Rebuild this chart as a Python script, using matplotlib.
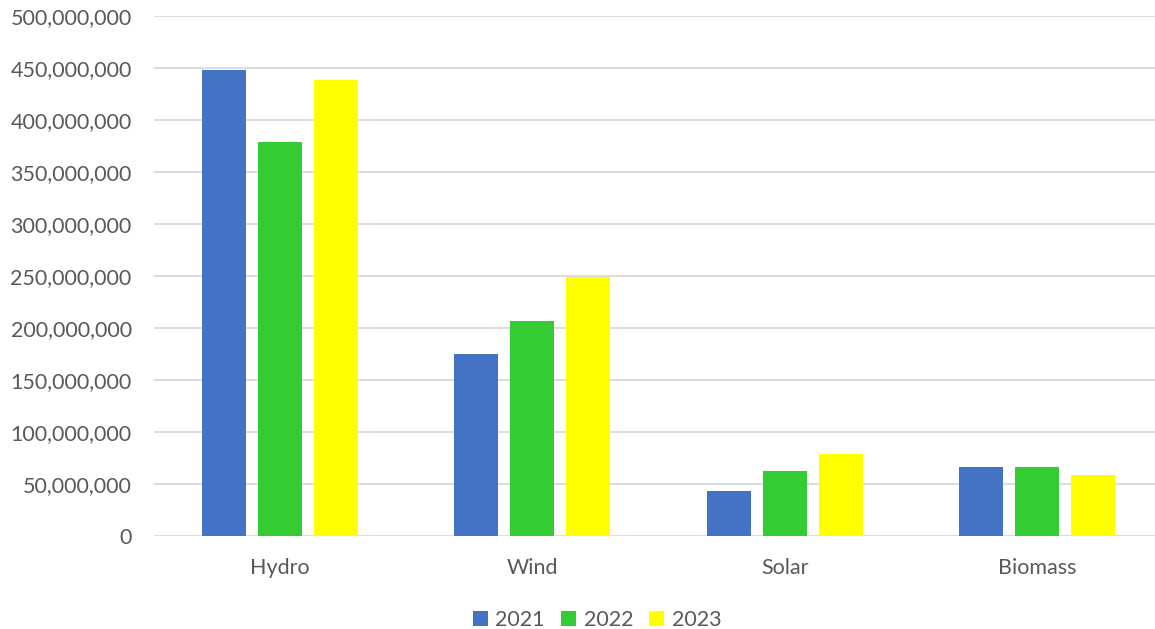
import matplotlib
matplotlib.use("Agg")
import matplotlib.pyplot as plt
import numpy as np
from matplotlib.ticker import FuncFormatter, MultipleLocator

categories = ["Hydro", "Wind", "Solar", "Biomass"]
years = ["2021", "2022", "2023"]
v2021 = [448_000_000, 175_000_000, 43_600_000, 66_700_000]
v2022 = [379_000_000, 207_000_000, 62_500_000, 66_000_000]
v2023 = [438_500_000, 248_700_000, 78_800_000, 58_600_000]
colors = ["#4472C4", "#33CC33", "#FFFF00"]

plt.rcParams['font.family'] = ['Lato', 'DejaVu Sans']
fig = plt.figure(figsize=(11.55, 6.29), dpi=100)
ax = fig.add_axes([0.1333, 0.148, 0.8736, 0.8268])

x = np.arange(len(categories))
step = 0.222
width = 0.174
for i, (vals, c, yr) in enumerate(zip([v2021, v2022, v2023], colors, years)):
    ax.bar(x + (i - 1) * step, vals, width, color=c, label=yr, zorder=3)

ax.set_xlim(-0.5, len(categories) - 0.5)
ax.set_ylim(0, 500_000_000)
ax.yaxis.set_major_locator(MultipleLocator(50_000_000))
ax.yaxis.set_major_formatter(FuncFormatter(lambda v, p: f"{int(v):,}"))
ax.grid(axis='y', color='#D9D9D9', linewidth=1.3, zorder=0)
for s in ax.spines.values():
    s.set_visible(False)
ax.tick_params(axis='both', length=0, labelsize=15.5, labelcolor='#595959')
ax.tick_params(axis='y', pad=16)
ax.tick_params(axis='x', pad=16)
ax.set_xticks(x)
ax.set_xticklabels(categories)

leg = fig.legend(loc='center', bbox_to_anchor=(0.517, 0.0143), ncol=3, frameon=False,
                 fontsize=15.5, handlelength=0.7, handleheight=0.7, handletextpad=0.35,
                 columnspacing=0.75, borderpad=0)
for t in leg.get_texts():
    t.set_color('#595959')

fig.savefig("out.png", dpi=100)
